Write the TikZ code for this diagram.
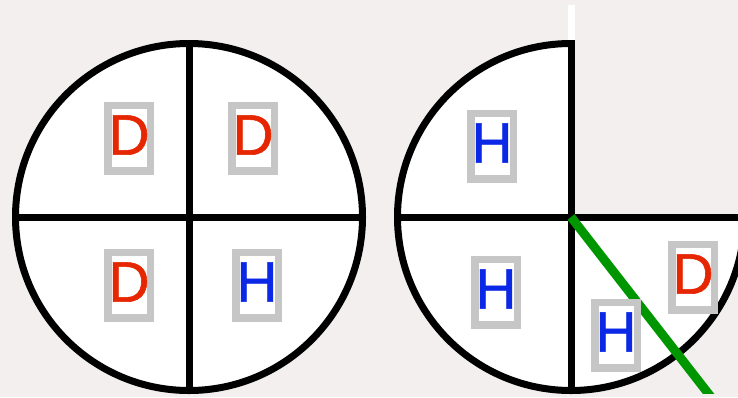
\documentclass[tikz,border=0pt]{standalone}
\usepackage{fontspec}
\setmainfont{Liberation Sans}
\newfontfamily\tagfont{Liberation Sans}[FakeBold=1]
\usetikzlibrary{calc}
\definecolor{PaperGray}{HTML}{F2EFEE}
\definecolor{LabelRed}{HTML}{E62600}
\definecolor{LabelBlue}{HTML}{0A28E6}
\definecolor{FrameGray}{HTML}{C6C6C6}
\definecolor{CutGreen}{HTML}{009600}

\begin{document}
\begin{tikzpicture}[x=1pt,y=-1pt,
  rim/.style={line width=7pt,black},
  tag/.style={draw=FrameGray,line width=7.5pt,fill=white,inner sep=0pt,
    minimum width=42.5pt,minimum height=65.5pt,text depth=6pt,
    font=\tagfont\fontsize{57}{60}\selectfont}]
  \fill[PaperGray] (0,0) rectangle (738,397);
  \useasboundingbox (0,0) rectangle (738,397);
  \coordinate (lc) at (189,217);
  \coordinate (rc) at (571,217);
  % left pie, four quarters
  \filldraw[rim,fill=white] (lc) circle[radius=173.5pt];
  \draw[rim] ($(lc)+(-173.5,0)$) -- ($(lc)+(173.5,0)$);
  \draw[rim] ($(lc)+(0,-173.5)$) -- ($(lc)+(0,173.5)$);
  % right pie, top right quarter taken out
  \fill[white] ($(rc)+(-173.5,0)$) arc[start angle=180,end angle=90,radius=173.5pt]
    -- (rc) -- ($(rc)+(173.5,0)$) arc[start angle=0,end angle=-180,radius=173.5pt] -- cycle;
  \draw[rim] ($(rc)+(0,-173.5)$) arc[start angle=90,end angle=270,radius=173.5pt];
  \draw[rim] ($(rc)+(0,173.5)$) arc[start angle=-90,end angle=0,radius=173.5pt];
  \draw[rim] ($(rc)+(-173.5,0)$) -- ($(rc)+(173.5,0)$);
  \draw[rim] ($(rc)+(0,-177)$) -- ($(rc)+(0,173.5)$);
  \draw[white,line width=7pt] (571,5) -- (571,40);
  % the cut
  \coordinate (cutend) at (711,397);
  \begin{scope}
    \clip (0,0) rectangle (738,393);
    \draw[CutGreen,line width=9pt] (rc) -- (cutend);
  \end{scope}
  % labels
  \foreach \x/\y/\lab/\col/\name in {129/138/D/LabelRed/tA,253/138/D/LabelRed/tB,
      129/285/D/LabelRed/tC,257/285/H/LabelBlue/tD,492/146/H/LabelBlue/tE,
      496/292/H/LabelBlue/tF,693/277/D/LabelRed/tG,616/335/H/LabelBlue/tH}{
    \node[tag,text=\col] (\name) at (\x,\y) {\lab};
  }
\end{tikzpicture}
\end{document}
